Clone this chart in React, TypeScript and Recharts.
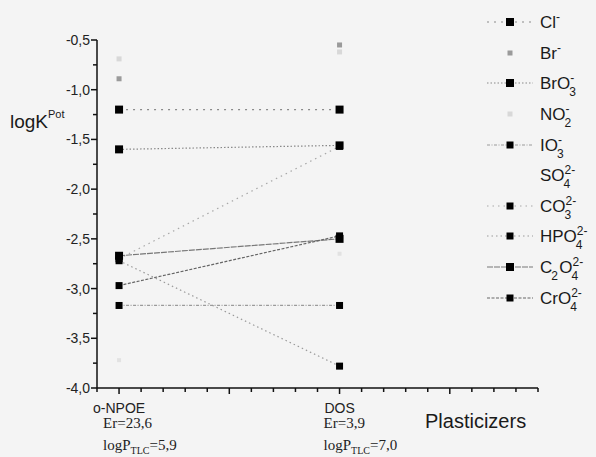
import React from 'react';
import { LineChart, Line, XAxis, YAxis } from 'recharts';

// anion keys, in legend order
const ions = ['Cl', 'Br', 'BrO3', 'NO2', 'IO3', 'SO4', 'CO3', 'HPO4', 'C2O4', 'CrO4'];
// legend label pieces: [text, subscript, superscript]
const ionLabels: [string, string, string][][] = [
  [['Cl', '', '-']],
  [['Br', '', '-']],
  [['BrO', '3', '-']],
  [['NO', '2', '-']],
  [['IO', '3', '-']],
  [['SO', '4', '2-']],
  [['CO', '3', '2-']],
  [['HPO', '4', '2-']],
  [['C', '2', ''], ['O', '4', '2-']],
  [['CrO', '4', '2-']],
];
const npoeValues = [-1.2, -0.89, -1.6, -0.69, -3.17, -3.72, -2.7, -2.72, -2.67, -2.97];
const dosValues = [-1.2, -0.55, -1.56, -0.62, -3.17, -2.65, -1.57, -3.78, -2.5, -2.47];
const plasticizerX = [1, 2];
const xTicks = [0.9, 1, 1.1, 1.2, 1.3, 1.4, 1.5, 1.6, 1.7, 1.8, 1.9, 2, 2.1, 2.2, 2.3, 2.4, 2.5, 2.6, 2.7, 2.8, 2.9];
const yTicks = [-4, -3.75, -3.5, -3.25, -3, -2.75, -2.5, -2.25, -2, -1.75, -1.5, -1.25, -1, -0.75, -0.5];

const data = plasticizerX.map((x, i) => {
  const row: any = { x };
  ions.forEach((ion, k) => {
    row[ion] = i === 0 ? npoeValues[k] : dosValues[k];
  });
  return row;
});

// per series look: marker colour, marker size, line colour, dash
const styles: Record<string, { fill: string; size: number; stroke: string; dash?: string }> = {
  Cl: { fill: '#000', size: 8, stroke: '#8a8a8a', dash: '2 5' },
  Br: { fill: '#9a9a9a', size: 5, stroke: 'none' },
  BrO3: { fill: '#000', size: 8, stroke: '#888', dash: '1.5 2' },
  NO2: { fill: '#d8d8d8', size: 5, stroke: 'none' },
  IO3: { fill: '#000', size: 7, stroke: '#9a9a9a', dash: '3 1.5 1 1.5' },
  SO4: { fill: '#e2e2e2', size: 4, stroke: 'none' },
  CO3: { fill: '#000', size: 7, stroke: '#a8a8a8', dash: '1.5 4' },
  HPO4: { fill: '#000', size: 7, stroke: '#999', dash: '1.5 3' },
  C2O4: { fill: '#000', size: 8, stroke: '#777', dash: '6 1' },
  CrO4: { fill: '#000', size: 7, stroke: '#666', dash: '3 1.5' },
};

const sans = 'Liberation Sans, Arial, sans-serif';
const fmt = (v: number) => v.toFixed(1).replace('.', ',');

const YTick = ({ x, y, payload }: any) => {
  const v = payload.value;
  const major = Math.abs(v * 2 - Math.round(v * 2)) < 1e-6;
  return (
    <g>
      <line x1={x - (major ? 6 : 4)} x2={x} y1={y} y2={y} stroke="#111" strokeWidth={1.5} />
      {major && (
        <text x={x - 7} y={y} textAnchor="end" dominantBaseline="central" fontSize={14} fill="#222" fontFamily={sans}>
          {fmt(v)}
        </text>
      )}
    </g>
  );
};

const XTick = ({ x, y, payload }: any) => {
  const v = payload.value;
  const major = Math.abs(v * 2 - Math.round(v * 2)) < 1e-6;
  const serif = 'Liberation Serif, Times New Roman, serif';
  let label = null;
  if (Math.abs(v - 1) < 1e-6 || Math.abs(v - 2) < 1e-6) {
    const name = v < 1.5 ? 'o-NPOE' : 'DOS';
    const er = v < 1.5 ? 'Er=23,6' : 'Er=3,9';
    const lp = v < 1.5 ? '=5,9' : '=7,0';
    label = (
      <g fill="#222">
        <text x={x} y={y + 25} textAnchor="middle" fontSize={14} fontFamily={sans}>{name}</text>
        <text x={x - 16} y={y + 40} fontSize={15} fontFamily={serif}>{er}</text>
        <text x={x - 16} y={y + 62} fontSize={15} fontFamily={serif}>
          logP<tspan fontSize={10} dy={4}>TLC</tspan><tspan dy={-4}>{lp}</tspan>
        </text>
      </g>
    );
  }
  return (
    <g>
      <line x1={x} x2={x} y1={y} y2={y + (major ? 6 : 4)} stroke="#111" strokeWidth={1.5} />
      {label}
    </g>
  );
};

const Square = (fill: string, size: number) => (props: any) => {
  const { cx, cy, key } = props;
  if (cx == null || cy == null) return <g key={key} />;
  return <rect key={key} x={cx - size / 2} y={cy - size / 2} width={size} height={size} fill={fill} />;
};

const scriptWidth = (s: string) => s.split('').reduce((w, c) => w + (c === '-' ? 4 : 7), 0);

const LegendBox = () => (
  <div style={{ position: 'absolute', left: 484, top: 7, fontFamily: sans, fontSize: 17, color: '#1a1a1a' }}>
    {ions.map((ion, i) => {
      const s = styles[ion];
      return (
        <div key={ion} style={{ display: 'flex', alignItems: 'center', height: 30.6 }}>
          <svg width={52} height={20} style={{ marginRight: 4 }}>
            {s.stroke !== 'none' && (
              <line x1={3} x2={49} y1={10} y2={10} stroke={s.stroke} strokeDasharray={s.dash} strokeWidth={1.2} />
            )}
            {ion !== 'SO4' && (
              <rect x={26 - s.size / 2} y={10 - s.size / 2} width={s.size} height={s.size} fill={s.fill} />
            )}
          </svg>
          <span style={{ whiteSpace: 'nowrap', lineHeight: '20px', position: 'relative', top: 1 }}>
            {ionLabels[i].map(([t, sub, sup], j) => (
              <React.Fragment key={j}>
                {t}
                <span
                  style={{
                    position: 'relative',
                    display: 'inline-block',
                    width: Math.max(scriptWidth(sub), scriptWidth(sup)),
                    height: 0,
                    fontSize: 12,
                    lineHeight: '13px',
                  }}
                >
                  <span style={{ position: 'absolute', left: 0, top: -17 }}>{sup}</span>
                  <span style={{ position: 'absolute', left: -1, top: -3 }}>{sub}</span>
                </span>
              </React.Fragment>
            ))}
          </span>
        </div>
      );
    })}
  </div>
);

export default function App() {
  return (
    <div style={{ position: 'absolute', left: 0, top: 0, width: 596, height: 457, background: '#f4f4f4' }}>
      <LineChart width={596} height={457} data={data} margin={{ top: 40, right: 58, bottom: 9, left: 0 }}>
        <XAxis
          dataKey="x"
          type="number"
          domain={[0.9, 2.9]}
          ticks={xTicks}
          height={60}
          tickSize={0}
          tickMargin={0}
          tickLine={false}
          tick={<XTick />}
          interval={0}
          axisLine={{ stroke: '#111', strokeWidth: 1.5 }}
          label={{
            content: ({ viewBox }: any) => (
              <text x={viewBox.x + 328} y={viewBox.y + 40} fontSize={20} fill="#1a1a1a" fontFamily={sans}>
                Plasticizers
              </text>
            ),
          }}
        />
        <YAxis
          type="number"
          domain={[-4, -0.5]}
          ticks={yTicks}
          width={97}
          tickSize={0}
          tickMargin={0}
          tickLine={false}
          tick={<YTick />}
          interval={0}
          axisLine={{ stroke: '#111', strokeWidth: 1.5 }}
          label={{
            content: () => (
              <text x={10} y={128} fontSize={19} fill="#1a1a1a" fontFamily={sans}>
                logK<tspan fontSize={11} dy={-10}>Pot</tspan>
              </text>
            ),
          }}
        />
        {ions.map((ion) => {
          const s = styles[ion];
          return (
            <Line
              key={ion}
              dataKey={ion}
              stroke={s.stroke}
              strokeWidth={1.2}
              strokeDasharray={s.dash}
              dot={Square(s.fill, s.size)}
              activeDot={false}
              isAnimationActive={false}
            />
          );
        })}
      </LineChart>
      <LegendBox />
    </div>
  );
}
